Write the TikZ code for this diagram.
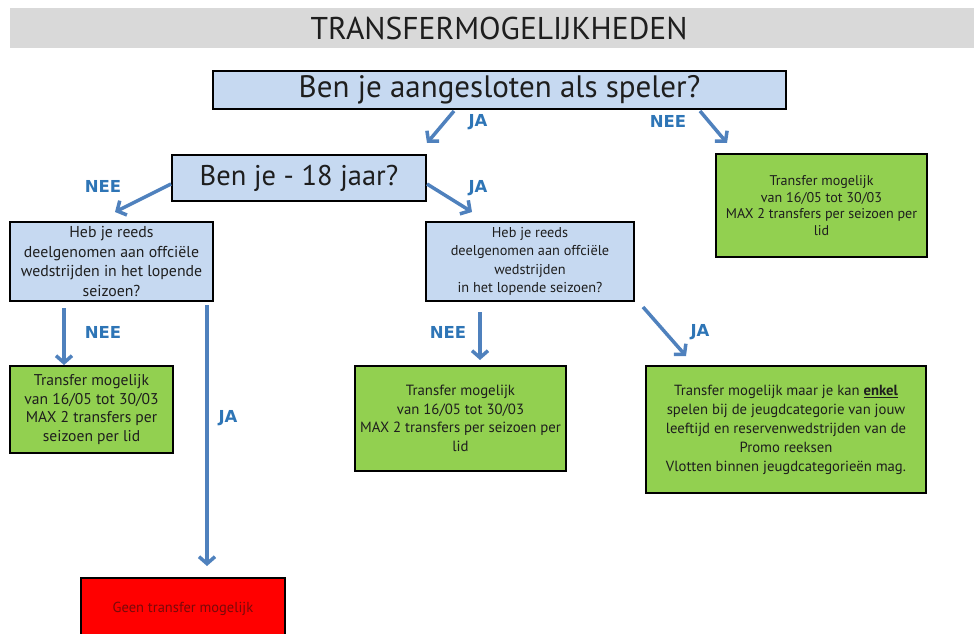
\documentclass[tikz,border=0pt]{standalone}
\usepackage{fontspec}
\setmainfont{PT Sans}
\newfontfamily\lblfont{DejaVu Sans}
\usepackage{tikz}
\usetikzlibrary{arrows.meta}
\definecolor{qblue}{HTML}{C6D9F1}
\definecolor{tgreen}{HTML}{92D050}
\definecolor{nred}{HTML}{FF0000}
\definecolor{arrblue}{HTML}{4F81BD}
\definecolor{lblblue}{HTML}{2E75B6}
\definecolor{band}{HTML}{D9D9D9}
\definecolor{txt}{HTML}{1E1E1E}
\tikzset{
  qbox/.style={draw=black, line width=2pt, fill=qblue, align=center, inner sep=0pt, text=txt, anchor=north west},
  gbox/.style={draw=black, line width=2pt, fill=tgreen, align=center, inner sep=0pt, text=txt, anchor=north west},
  rbox/.style={draw=black, line width=2pt, fill=nred, align=center, inner sep=0pt, text={rgb,255:red,120;green,10;blue,10}, anchor=north west},
  flow/.style={draw=arrblue, line width=3.5pt, -{Straight Barb[length=7pt,width=16pt,line width=3.5pt]}},
  lbl/.style={text=lblblue, font=\lblfont\fontsize{16.5}{20}\selectfont\bfseries},
}
\begin{document}
\begin{tikzpicture}[x=1pt,y=-1pt]
\useasboundingbox (0,0) rectangle (974,634);
\clip (0,0) rectangle (974,634);
\fill[band] (10,8) rectangle (974,48);
\node[font=\fontsize{31.5}{34}\selectfont, text=txt] (title) at (499,28) {TRANSFERMOGELIJKHEDEN};

\node[qbox, minimum width=573pt, minimum height=38pt, font=\fontsize{31}{34}\selectfont] (q1) at (212,70) {Ben je aangesloten als speler?};
\node[qbox, minimum width=254pt, minimum height=46pt, font=\fontsize{28.5}{32}\selectfont] (q2) at (171,154) {Ben je - 18 jaar?};
\node[qbox, minimum width=203pt, minimum height=79pt, font=\fontsize{15.8}{19.5}\selectfont] (q3) at (9,221) {Heb je reeds\\deelgenomen aan offciële\\wedstrijden in het lopende\\seizoen?};
\node[qbox, minimum width=208pt, minimum height=79pt, font=\fontsize{14.3}{18.5}\selectfont] (q4) at (425,221) {Heb je reeds\\deelgenomen aan offciële\\wedstrijden\\in het lopende seizoen?};

\node[gbox, minimum width=211pt, minimum height=103pt, font=\fontsize{14.1}{16.8}\selectfont] (g1) at (715,153) {Transfer mogelijk\\van 16/05 tot 30/03\\MAX 2 transfers per seizoen per\\lid};
\node[gbox, minimum width=163pt, minimum height=87pt, font=\fontsize{15.6}{18.5}\selectfont] (g2) at (9,365) {Transfer mogelijk\\van 16/05 tot 30/03\\MAX 2 transfers per\\seizoen per lid};
\node[gbox, minimum width=211pt, minimum height=105pt, font=\fontsize{14.8}{18.5}\selectfont] (g3) at (354,365) {Transfer mogelijk\\van 16/05 tot 30/03\\MAX 2 transfers per seizoen per\\lid};
\node[gbox, minimum width=280pt, minimum height=127pt, font=\fontsize{14.7}{19}\selectfont] (g4) at (645,365) {Transfer mogelijk maar je kan \textbf{\underline{enkel}}\\spelen bij de jeugdcategorie van jouw\\leeftijd en reservenwedstrijden van de\\Promo reeksen\\Vlotten binnen jeugdcategorieën mag.};
\node[rbox, minimum width=204pt, minimum height=62pt, font=\fontsize{14.5}{18}\selectfont] (r1) at (80,577) {Geen transfer mogelijk};

% connectors
\coordinate (a1s) at (454,111);
\coordinate (a2s) at (700,111);
\draw[flow] (a1s) -- (427,143);
\draw[flow] (a2s) -- (727,143);
\draw[flow] (q2.west |- 0,184) -- (115,212);
\draw[flow] (q2.east |- 0,184) -- (472,212);
\draw[flow] (64,308) -- (g2.north -| 64,0);
\draw[flow] (207,305) -- (207,566);
\draw[flow] (480,312) -- (480,360);
\draw[flow] (643,307) -- (686,356);

\node[lbl] (l1) at (478,122) {JA};
\node[lbl] (l2) at (668,121) {NEE};
\node[lbl] (l3) at (103,186) {NEE};
\node[lbl] (l4) at (478,188) {JA};
\node[lbl] (l5) at (103,332) {NEE};
\node[lbl] (l6) at (228,418) {JA};
\node[lbl] (l7) at (448,332) {NEE};
\node[lbl] (l8) at (700,332) {JA};
\end{tikzpicture}
\end{document}
